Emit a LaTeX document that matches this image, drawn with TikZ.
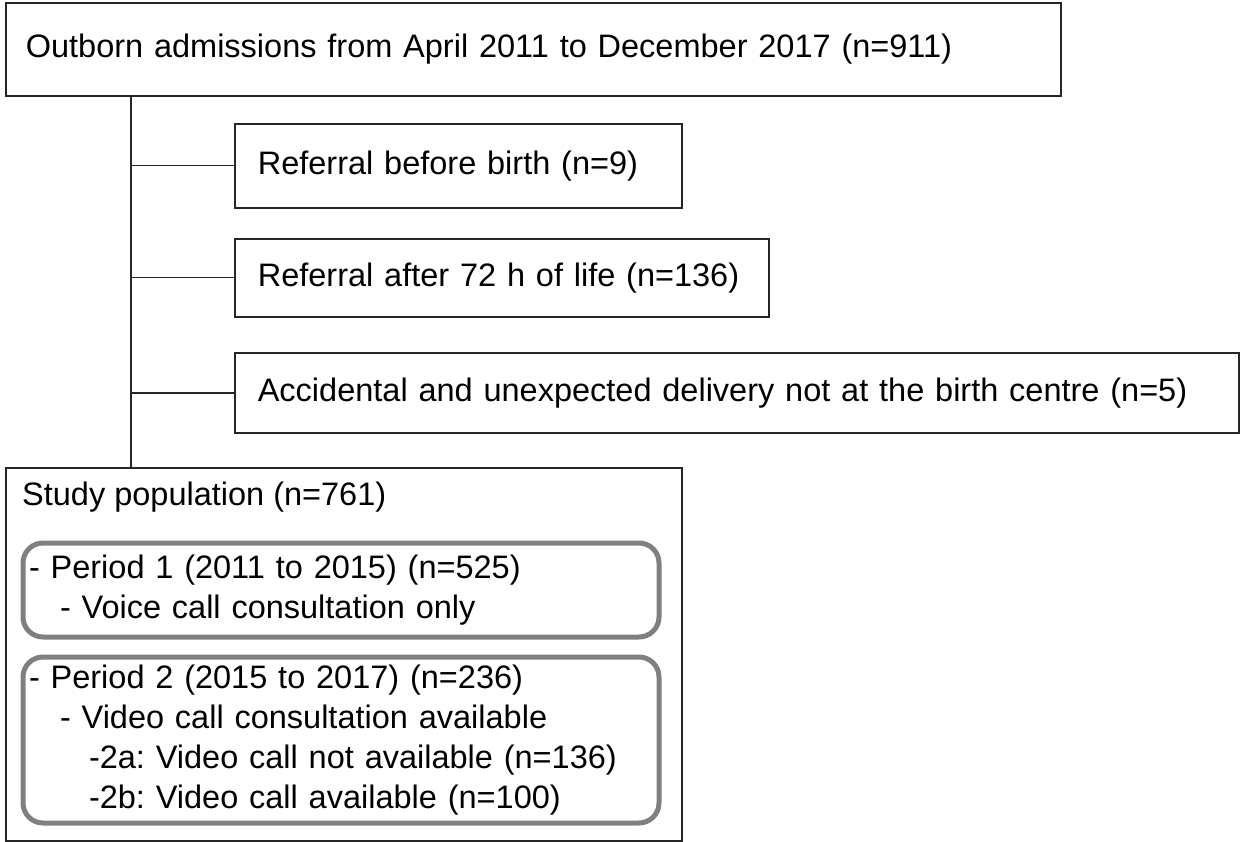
\documentclass[tikz,border=0pt]{standalone}
\usepackage{fontspec}
\usepackage{xcolor}
\setmainfont{Liberation Sans}
\frenchspacing
\definecolor{framegray}{RGB}{38, 38, 38}
\definecolor{periodgray}{RGB}{128, 128, 128}
\usetikzlibrary{positioning}

\begin{document}
\begin{tikzpicture}[x=1pt, y=-1pt,
    every node/.style={font=\fontsize{32.5}{40}\selectfont},
    flowbox/.style={rectangle, draw=framegray, line width=1.6pt, anchor=north west, align=left},
    periodbox/.style={rectangle, rounded corners=20pt, draw=periodgray, line width=5pt, anchor=north west, align=left, inner xsep=6pt, font=\fontsize{32.5}{40}\selectfont}]
    \useasboundingbox (0,0) rectangle (1240,842);

    % Admissions and exclusions
    \node[flowbox, minimum width=1055pt, minimum height=93pt, inner xsep=20pt, text width=1015pt] (admit) at (5,2) {Outborn admissions from April 2011 to December 2017 (n=911)};
    \node[flowbox, minimum width=447pt, minimum height=84pt, inner xsep=23pt, text width=401pt] (birth) at (234,123) {Referral before birth (n=9)};
    \node[flowbox, minimum width=534pt, minimum height=78pt, inner xsep=23pt, text width=488pt] (late) at (234,238) {Referral after 72 h of life (n=136)};
    \node[flowbox, minimum width=1004pt, minimum height=80pt, inner xsep=23pt, text width=958pt] (accident) at (234,352) {Accidental and unexpected delivery not at the birth centre (n=5)};

    % Study population
    \node[flowbox, minimum width=676pt, minimum height=373pt] (study) at (5,467) {};
    \node[anchor=west, inner sep=0pt] (studylabel) at (22,497) {Study population (n=761)};
    \node[periodbox, minimum width=636pt, minimum height=94pt, text width=624pt] (period1) at (20.5,540.5) {- Period 1 (2011 to 2015) (n=525)\\\hspace*{31pt}- Voice call consultation only};
    \node[periodbox, minimum width=636pt, minimum height=166pt, text width=624pt] (period2) at (20.5,654.5) {- Period 2 (2015 to 2017) (n=236)\\\hspace*{31pt}- Video call consultation available\\\hspace*{60pt}-2a: Video call not available (n=136)\\\hspace*{60pt}-2b: Video call available (n=100)};

    % Connectors
    \coordinate (trunk) at (131,0);
    \draw[line width=1.4pt, framegray] (admit.south -| trunk) -- (study.north -| trunk);
    \foreach \excl in {birth, late, accident}
        \draw[line width=1.4pt, framegray] (\excl.west -| trunk) -- (\excl.west);
\end{tikzpicture}
\end{document}
